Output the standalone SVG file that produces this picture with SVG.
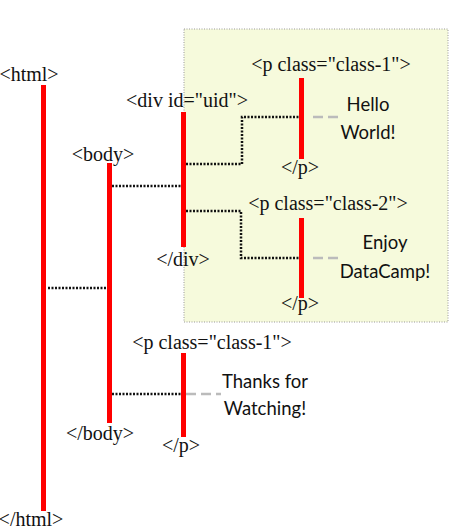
<svg xmlns="http://www.w3.org/2000/svg" width="474" height="529" viewBox="0 0 474 529">
<style>
.tag{font-family:"Liberation Serif","DejaVu Serif",serif;font-size:20px;fill:#111;text-anchor:middle}
.txt{font-family:Lato,"Liberation Sans",sans-serif;font-size:18.5px;fill:#111;text-anchor:middle}
.bar{stroke:#ff0000;stroke-width:5;fill:none}
.dot{stroke:#111;stroke-width:2.5;stroke-dasharray:2,1.5;fill:none}
.dash{stroke:#bbbbbb;stroke-width:2.5;stroke-dasharray:10,5;fill:none}
</style>
<rect x="184" y="29" width="264" height="293" fill="#f6fadc" stroke="#999" stroke-width="1" stroke-dasharray="1,1.5"/>
<g id="connectors">
<polyline class="dot" points="48,288 107,288"/>
<polyline class="dot" points="112,186 181,186"/>
<polyline class="dot" points="186,164 242,164 242,117 300,117"/>
<line class="dash" x1="313" y1="117" x2="338" y2="117"/>
<polyline class="dot" points="186,211 241,211 241,258 300,258"/>
<line class="dash" x1="313" y1="258" x2="338" y2="258"/>
<polyline class="dot" points="112,394 183,394"/>
<line class="dash" x1="186" y1="394" x2="221" y2="394"/>
</g>
<g id="html">
<line class="bar" x1="43.5" y1="85" x2="43.5" y2="511"/>
<text class="tag" x="29" y="81">&lt;html&gt;</text>
<text class="tag" x="31" y="526">&lt;/html&gt;</text>
</g>
<g id="body">
<line class="bar" x1="109.5" y1="163" x2="109.5" y2="423"/>
<text class="tag" x="103" y="161">&lt;body&gt;</text>
<text class="tag" x="100" y="440">&lt;/body&gt;</text>
</g>
<g id="div">
<line class="bar" x1="183.5" y1="112" x2="183.5" y2="247"/>
<text class="tag" x="187" y="107">&lt;div id="uid"&gt;</text>
<text class="tag" x="183" y="266">&lt;/div&gt;</text>
</g>
<g id="p1">
<line class="bar" x1="301.5" y1="78" x2="301.5" y2="159"/>
<text class="tag" x="331" y="71">&lt;p class="class-1"&gt;</text>
<text class="tag" x="300" y="174">&lt;/p&gt;</text>
<text class="txt" x="368" y="111">Hello</text>
<text class="txt" x="368" y="139">World!</text>
</g>
<g id="p2">
<line class="bar" x1="301.5" y1="218" x2="301.5" y2="298"/>
<text class="tag" x="328" y="210">&lt;p class="class-2"&gt;</text>
<text class="tag" x="300" y="310">&lt;/p&gt;</text>
<text class="txt" x="385" y="249">Enjoy</text>
<text class="txt" x="385" y="278">DataCamp!</text>
</g>
<g id="p3">
<line class="bar" x1="183.5" y1="353" x2="183.5" y2="437"/>
<text class="tag" x="212" y="349">&lt;p class="class-1"&gt;</text>
<text class="tag" x="181" y="452">&lt;/p&gt;</text>
<text class="txt" x="265" y="388">Thanks for</text>
<text class="txt" x="265" y="415">Watching!</text>
</g>
</svg>
